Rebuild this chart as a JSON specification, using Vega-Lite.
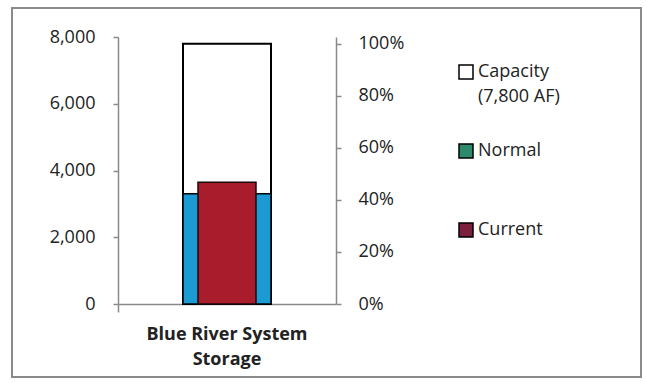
{
  "$schema": "https://vega.github.io/schema/vega-lite/v6.json",
  "width": 629,
  "height": 369,
  "autosize": "none",
  "padding": {"left": 12, "top": 8, "right": 5, "bottom": 6},
  "background": "white",
  "config": {
    "view": {"stroke": "#8a8a8a", "strokeWidth": 2},
    "font": "Open Sans",
    "style": {"guide-label": {"lineHeight": 25}},
    "axis": {
      "labelFont": "Open Sans",
      "labelFontSize": 18,
      "labelColor": "#222222",
      "domainColor": "#8a8a8a",
      "tickColor": "#8a8a8a",
      "domainWidth": 1.5,
      "tickWidth": 1.5,
      "grid": false,
      "title": null
    }
  },
  "data": {
    "values": [
      {"system": "Blue River System Storage", "series": "Capacity", "storage": 7800},
      {"system": "Blue River System Storage", "series": "Normal", "storage": 3300},
      {"system": "Blue River System Storage", "series": "Current", "storage": 3650}
    ]
  },
  "encoding": {
    "x": {
      "field": "system",
      "type": "nominal",
      "scale": {"range": [106, 324], "paddingInner": 0, "paddingOuter": 0},
      "axis": {
        "orient": "bottom",
        "offset": -73,
        "bandPosition": 0,
        "tickSize": 8,
        "labelAngle": 0,
        "labelPadding": 13,
        "labelFontWeight": "bold",
        "labelLineHeight": 25,
        "labelLimit": 300,
        "labelExpr": "datum.value == 'Blue River System Storage' ? ['Blue River System', 'Storage'] : datum.label"
      }
    },
    "y": {
      "field": "storage",
      "type": "quantitative",
      "stack": null,
      "scale": {"domain": [0, 8000], "range": [296, 29], "nice": false, "zero": true}
    }
  },
  "layer": [
    {
      "mark": {"type": "bar", "size": 1, "stroke": "#000000", "strokeWidth": 1.5},
      "encoding": {
        "y": {"field": "storage", "type": "quantitative", "stack": null, "axis": null},
        "fill": {
          "field": "series",
          "type": "nominal",
          "scale": {
            "domain": ["Capacity", "Normal", "Current"],
            "range": ["#ffffff", "#2e8a6c", "#7c1f3d"]
          },
          "legend": {
            "orient": "none",
            "legendX": 445,
            "legendY": 55,
            "title": null,
            "padding": 0,
            "gridAlign": "all",
            "symbolType": "square",
            "symbolSize": 196,
            "symbolOpacity": 1,
            "labelFont": "Open Sans",
            "labelFontSize": 18,
            "labelColor": "#222222",
            "labelOffset": 3,
            "labelLimit": 200,
            "rowPadding": 35,
            "labelExpr": "datum.value == 'Capacity' ? ['Capacity', '(7,800 AF)'] : datum.label"
          }
        }
      }
    },
    {
      "transform": [{"filter": "datum.series == 'Capacity'"}],
      "mark": {"type": "bar", "size": 88, "fill": "#ffffff", "stroke": "#000000", "strokeWidth": 2},
      "encoding": {
        "y": {
          "field": "storage",
          "type": "quantitative",
          "stack": null,
          "axis": {
            "orient": "left",
            "offset": -106,
            "values": [0, 2000, 4000, 6000, 8000],
            "format": ",.0f",
            "tickSize": 5,
            "labelPadding": 18
          }
        }
      }
    },
    {
      "transform": [{"filter": "datum.series == 'Normal'"}],
      "mark": {"type": "bar", "size": 88, "fill": "#1b9ad4", "stroke": "#000000", "strokeWidth": 1.5},
      "encoding": {
        "y": {"field": "storage", "type": "quantitative", "stack": null, "axis": null}
      }
    },
    {
      "transform": [{"filter": "datum.series == 'Current'"}],
      "mark": {"type": "bar", "size": 58, "fill": "#a91c2b", "stroke": "#1a0a0a", "strokeWidth": 1.5},
      "encoding": {
        "y": {
          "field": "storage",
          "type": "quantitative",
          "stack": null,
          "axis": {
            "orient": "right",
            "offset": -305,
            "values": [0, 1560, 3120, 4680, 6240, 7800],
            "labelExpr": "format(datum.value / 7800, '.0%')",
            "tickSize": 5,
            "labelPadding": 17
          }
        }
      }
    }
  ],
  "resolve": {"scale": {"y": "shared"}, "axis": {"y": "independent"}}
}
